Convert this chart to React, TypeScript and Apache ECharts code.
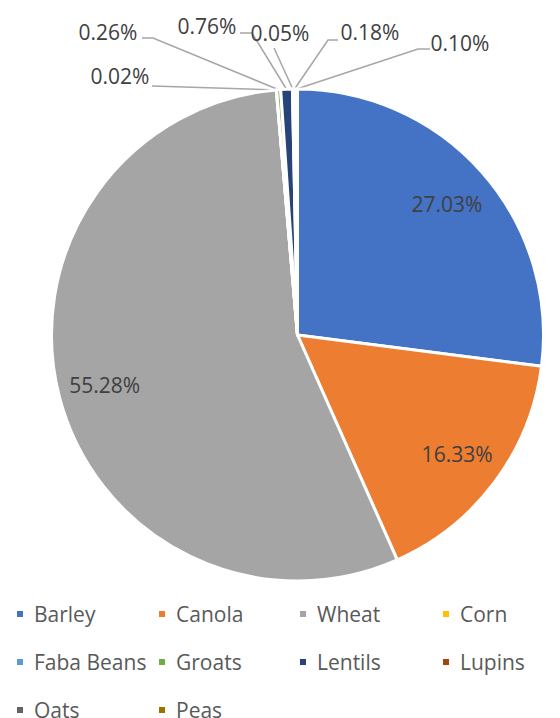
import React, { useEffect, useRef } from "react";
import * as echarts from "echarts";

const categories = ["Barley", "Canola", "Wheat", "Corn", "Faba Beans", "Groats", "Lentils", "Lupins", "Oats", "Peas"];
const shares = [27.03, 16.33, 55.28, 0, 0.02, 0.26, 0.76, 0.05, 0.18, 0.1];
const colors = ["#4472C4", "#ED7D31", "#A5A5A5", "#FFC000", "#5B9BD5", "#70AD47", "#264478", "#9E480E", "#636363", "#997300"];
const insideLabelled = ["Barley", "Canola", "Wheat"];
const outsideLabelled = ["Faba Beans", "Groats", "Lentils", "Lupins", "Oats", "Peas"];
const legendColumns = [
  ["Barley", "Faba Beans", "Oats"],
  ["Canola", "Groats", "Peas"],
  ["Wheat", "Lentils"],
  ["Corn", "Lupins"],
];
const legendLefts = [15, 157, 298, 441];
const legendTop = 602;
const legendRowStep = 48;

// label placement (layout only): text anchor and leader-line bend points
const outsideLayout: Record<string, { x: number; y: number; line: number[][] }> = {
  "Faba Beans": { x: 120, y: 76, line: [[152, 86]] },
  Groats: { x: 108, y: 32, line: [[153, 38], [142, 38]] },
  Lentils: { x: 207, y: 26, line: [[252, 33], [240, 33]] },
  Lupins: { x: 280, y: 33, line: [[274, 48]] },
  Oats: { x: 370, y: 32, line: [[328, 40], [338, 40]] },
  Peas: { x: 460, y: 43, line: [[418, 49], [430, 49]] },
};

const FONT = "'Open Sans', 'Liberation Sans', sans-serif";
const fmt = (v: number) => v.toFixed(2) + "%";

export default function App() {
  const ref = useRef<HTMLDivElement>(null);
  useEffect(() => {
    document.body.style.margin = "0";
    const chart = echarts.init(ref.current!, undefined, { renderer: "svg" });
    const mainData = categories.map((name, i) => ({
      name,
      value: shares[i],
      itemStyle: { color: colors[i] },
      label: { show: outsideLabelled.includes(name) },
      labelLine: { show: outsideLabelled.includes(name) },
    }));
    const labelData = categories.map((name, i) => ({
      name,
      value: shares[i],
      label: { show: insideLabelled.includes(name) },
    }));
    const legends: any[] = [];
    legendColumns.forEach((col, ci) =>
      col.forEach((name, ri) =>
        legends.push({
          data: [name],
          orient: "horizontal",
          left: legendLefts[ci],
          top: legendTop + ri * legendRowStep,
          icon: "rect",
          itemWidth: 8,
          itemHeight: 8,
          padding: 0,
          selectedMode: false,
          textStyle: {
            color: "#595959",
            fontSize: 21,
            fontFamily: FONT,
            lineHeight: 24,
            padding: [0, 0, 0, 5],
          },
        })
      )
    );
    chart.setOption({
      animation: false,
      legend: legends,
      series: [
        {
          type: "pie",
          center: [297.5, 335],
          radius: 246,
          startAngle: 90,
          clockwise: true,
          avoidLabelOverlap: false,
          silent: true,
          itemStyle: { borderColor: "#ffffff", borderWidth: 3 },
          label: {
            position: "outside",
            color: "#404040",
            fontSize: 21,
            fontFamily: FONT,
            formatter: (p: any) => fmt(p.value),
          },
          labelLine: {
            length: 20,
            length2: 20,
            lineStyle: { color: "#A6A6A6", width: 1.5 },
          },
          labelLayout: (p: any) => {
            const name = categories[p.dataIndex];
            const l = outsideLayout[name];
            if (!l || !p.labelLinePoints) return {};
            return {
              x: l.x,
              y: l.y,
              align: "center",
              verticalAlign: "middle",
              labelLinePoints: [p.labelLinePoints[0], ...l.line],
            };
          },
          data: mainData,
        },
        {
          type: "pie",
          center: [297.5, 335],
          radius: [0, 392],
          startAngle: 90,
          clockwise: true,
          avoidLabelOverlap: false,
          silent: true,
          itemStyle: { color: "rgba(0,0,0,0)", borderWidth: 0 },
          label: {
            position: "inside",
            color: "#404040",
            fontSize: 21,
            fontFamily: FONT,
            formatter: (p: any) => fmt(p.value),
          },
          labelLine: { show: false },
          data: labelData,
        },
      ],
    });
    return () => chart.dispose();
  }, []);
  return <div ref={ref} style={{ width: 560, height: 718 }} />;
}
